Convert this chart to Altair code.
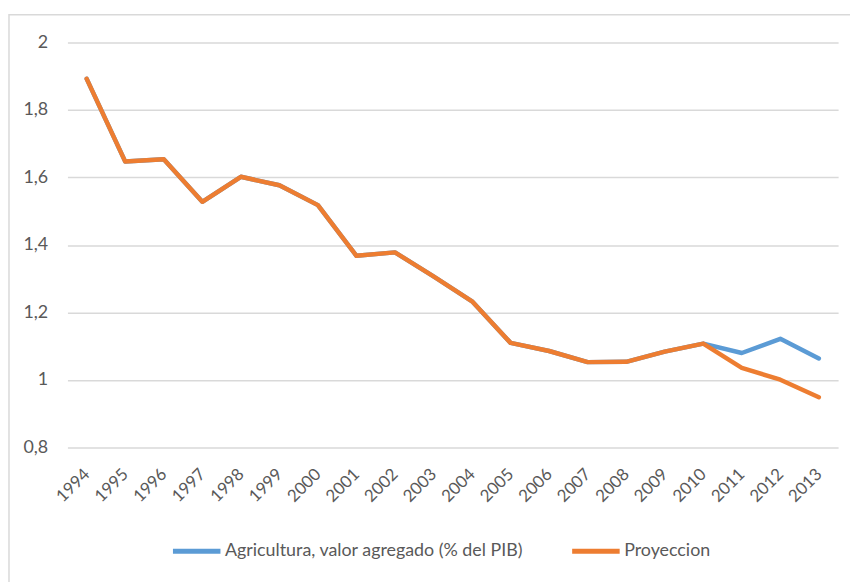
import altair as alt
import pandas as pd

years = [str(y) for y in range(1994, 2014)]
agricultura = [1.892, 1.647, 1.654, 1.528, 1.602, 1.577, 1.518, 1.368, 1.378, 1.307,
               1.233, 1.110, 1.086, 1.053, 1.054, 1.084, 1.108, 1.080, 1.122, 1.064]
proyeccion = [1.892, 1.647, 1.654, 1.528, 1.602, 1.577, 1.518, 1.368, 1.378, 1.307,
              1.233, 1.110, 1.086, 1.053, 1.054, 1.084, 1.108, 1.036, 1.001, 0.949]
series_names = ["Agricultura, valor agregado (% del PIB)", "Proyeccion"]
series_colors = ["#5B9BD5", "#ED7D31"]
y_ticks = [0.8, 1.0, 1.2, 1.4, 1.6, 1.8, 2.0]

FONT = "Lato"
TXT = "#595959"
GRID = "#D9D9D9"

df_a = pd.DataFrame({"year": years, "value": agricultura, "serie": series_names[0]})
df_p = pd.DataFrame({"year": years, "value": proyeccion, "serie": series_names[1]})

x_enc = alt.X(
    "year:O",
    title=None,
    sort=years,
    axis=alt.Axis(
        labelAngle=-45, labelAlign="right", labelBaseline="middle",
        labelPadding=24, ticks=False, domain=False, grid=False,
        labelFont=FONT, labelFontSize=17, labelColor=TXT,
    ),
)
y_enc = alt.Y(
    "value:Q",
    title=None,
    scale=alt.Scale(domain=[0.8, 2.0], nice=False, zero=False),
    axis=alt.Axis(
        values=y_ticks, grid=True, gridColor=GRID, gridWidth=1.5,
        ticks=False, domain=False, labelPadding=20,
        labelExpr="replace(format(datum.value, '.1~f'), '.', ',')",
        labelFont=FONT, labelFontSize=18, labelColor=TXT,
    ),
)
color_enc = alt.Color(
    "serie:N",
    scale=alt.Scale(domain=series_names, range=series_colors),
    legend=alt.Legend(
        title=None, orient="none", legendX=104, legendY=487,
        direction="horizontal", symbolType="stroke", symbolSize=2300,
        symbolStrokeWidth=5, labelFont=FONT, labelFontSize=18,
        labelColor=TXT, columnPadding=38, labelLimit=0, labelOffset=2,
    ),
)

border = alt.Chart(pd.DataFrame({"b": [0]})).mark_rect(
    fill="white", fillOpacity=0, stroke=GRID, strokeWidth=1.5
).encode(
    x=alt.value(-59), x2=alt.value(820), y=alt.value(-28), y2=alt.value(620)
)

line_a = alt.Chart(df_a).mark_line(strokeWidth=4.5, strokeCap="round", strokeJoin="round").encode(
    x=x_enc, y=y_enc, color=color_enc
)
line_p = alt.Chart(df_p).mark_line(strokeWidth=4.5, strokeCap="round", strokeJoin="round").encode(
    x=x_enc, y=y_enc, color=color_enc
)

chart = alt.layer(border, line_a, line_p).properties(
    width=778, height=409,
    autosize=alt.AutoSizeParams(type="none"),
    padding={"left": 60, "top": 32, "right": 12, "bottom": 133},
    background="white",
).configure_view(stroke=None)

chart.save("out.html", embed_options={"renderer": "svg", "actions": False})
